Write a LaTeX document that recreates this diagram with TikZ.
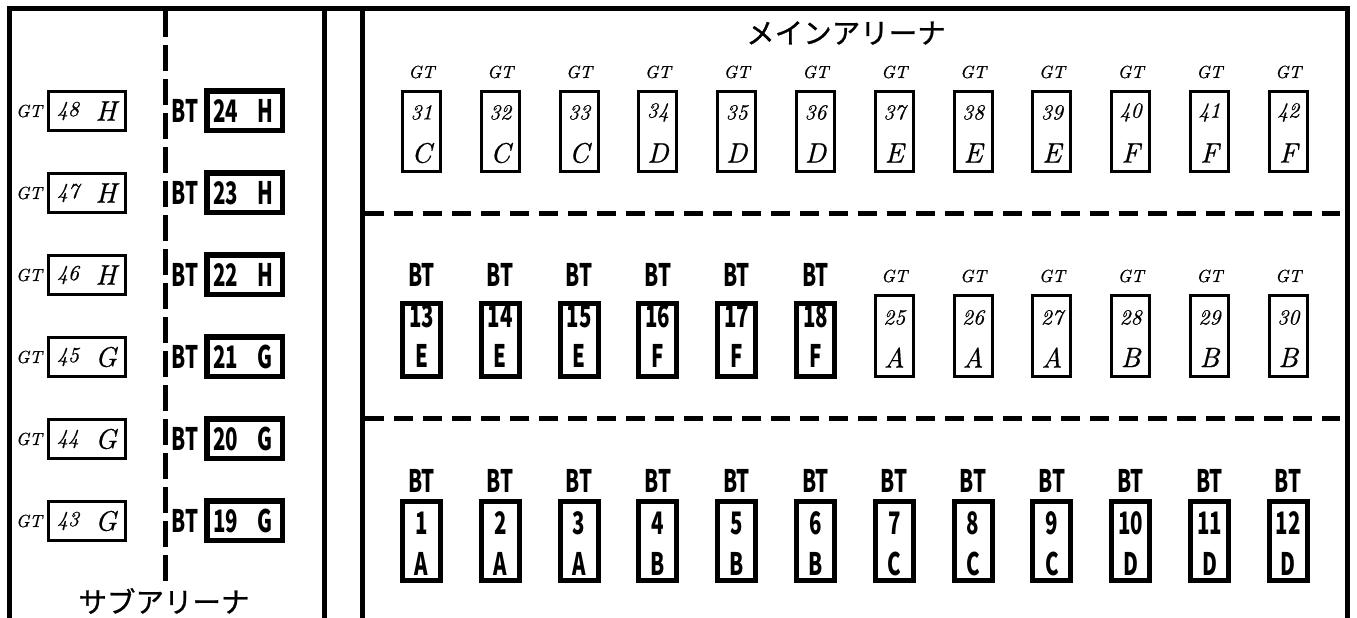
\documentclass[tikz,border=0pt]{standalone}
\usepackage{fontspec}
\newfontfamily\jpfont[FakeBold=0.8]{Noto Sans CJK JP}
\newfontfamily\btfont[FakeStretch=0.66]{Noto Sans CJK JP}
\newfontfamily\gtfont[FakeBold=0.6,Numbers=Lining]{lmroman10-italic.otf}
\begin{document}
\begin{tikzpicture}[x=1pt,y=-1pt,
 wall/.style={line width=5pt},
 divider/.style={line width=5pt,dash pattern=on 19pt off 10pt},
 vdivider/.style={line width=5pt,dash pattern=on 26pt off 8pt},
 gtbox/.style={draw,line width=3pt,minimum width=38pt,minimum height=80pt,inner sep=0pt},
 btbox/.style={draw,line width=5pt,minimum width=38pt,minimum height=79pt,inner sep=0pt},
 gtboxs/.style={draw,line width=3pt,minimum width=77pt,minimum height=39pt,inner sep=0pt},
 btboxs/.style={draw,line width=5.5pt,minimum width=75.5pt,minimum height=39.5pt,inner sep=0pt},
 txt/.style={inner sep=0pt,anchor=center},
 gtlab/.style={txt,font=\gtfont\fontsize{17.5}{17.5}\selectfont},
 gtnum/.style={txt,font=\gtfont\fontsize{21.5}{21.5}\selectfont},
 gtlet/.style={txt,font=\gtfont\fontsize{28}{28}\selectfont},
 bttxt/.style={txt,font=\btfont\bfseries\fontsize{31}{31}\selectfont},
 title/.style={txt,font=\jpfont\fontsize{28.5}{28.5}\selectfont},
]
\useasboundingbox (0,0) rectangle (1357,618);

% walls
\draw[wall,line join=miter] (9.5,618) -- (9.5,8.5) -- (1347.5,8.5) -- (1347.5,618);
\draw[wall] (324,8.5) -- (324,618);
\draw[wall] (362,8.5) -- (362,618);
\draw[vdivider] (165,11) -- (165,582);
\draw[divider] (365,213) -- (1340,213);
\draw[divider] (365,418) -- (1340,418);

% titles
\node[title] (main) at (846,33) {メインアリーナ};
\node[title] (sub) at (164,601) {サブアリーナ};

% main arena row 1 (GT)
\foreach \n/\l [count=\i from 0] in {31/C,32/C,33/C,34/D,35/D,36/D,37/E,38/E,39/E,40/F,41/F,42/F}{
  \pgfmathsetmacro\cx{421.5+\i*78.8}
  \node[gtlab] (lab\n) at (\cx,72) {GT};
  \node[gtbox] (box\n) at (\cx,131.5) {};
  \node[gtnum] (num\n) at (\cx,112.5) {\n};
  \node[gtlet] (let\n) at (\cx,153) {\l};
}
% main arena row 2 (BT)
\foreach \n/\l [count=\i from 0] in {13/E,14/E,15/E,16/F,17/F,18/F}{
  \pgfmathsetmacro\cx{421.5+\i*78.8}
  \node[bttxt] (lab\n) at (\cx,275) {BT};
  \node[btbox,minimum height=73pt] (box\n) at (\cx,340) {};
  \node[bttxt] (num\n) at (\cx,316) {\n};
  \node[bttxt] (let\n) at (\cx,356) {\l};
}
% main arena row 2 (GT)
\foreach \n/\l [count=\i from 6] in {25/A,26/A,27/A,28/B,29/B,30/B}{
  \pgfmathsetmacro\cx{421.5+\i*78.8}
  \node[gtlab] (lab\n) at (\cx,276) {GT};
  \node[gtbox,minimum height=81pt] (box\n) at (\cx,336) {};
  \node[gtnum] (num\n) at (\cx,317.5) {\n};
  \node[gtlet] (let\n) at (\cx,357.5) {\l};
}
% main arena row 3 (BT)
\foreach \n/\l [count=\i from 0] in {1/A,2/A,3/A,4/B,5/B,6/B,7/C,8/C,9/C,10/D,11/D,12/D}{
  \pgfmathsetmacro\cx{421.5+\i*78.8}
  \node[bttxt] (lab\n) at (\cx,481) {BT};
  \node[btbox] (box\n) at (\cx,541) {};
  \node[bttxt] (num\n) at (\cx,523) {\n};
  \node[bttxt] (let\n) at (\cx,564) {\l};
}

% sub arena
\foreach \g/\b/\l [count=\k from 0] in {48/24/H,47/23/H,46/22/H,45/21/G,44/20/G,43/19/G}{
  \pgfmathsetmacro\cy{111+\k*82}
  \node[gtlab] (sl\g) at (29,\cy) {GT};
  \node[gtboxs] (sb\g) at (87,\cy) {};
  \node[gtnum] (sn\g) at (68,\cy) {\g};
  \node[gtlet] (sx\g) at (106,\cy) {\l};
  \node[bttxt] (tl\b) at (185,\cy) {BT};
  \node[btboxs] (tb\b) at (244.5,\cy-0.5) {};
  \node[bttxt] (tn\b) at (225.5,\cy) {\b};
  \node[bttxt] (tx\b) at (265,\cy) {\l};
}
\end{tikzpicture}
\end{document}
